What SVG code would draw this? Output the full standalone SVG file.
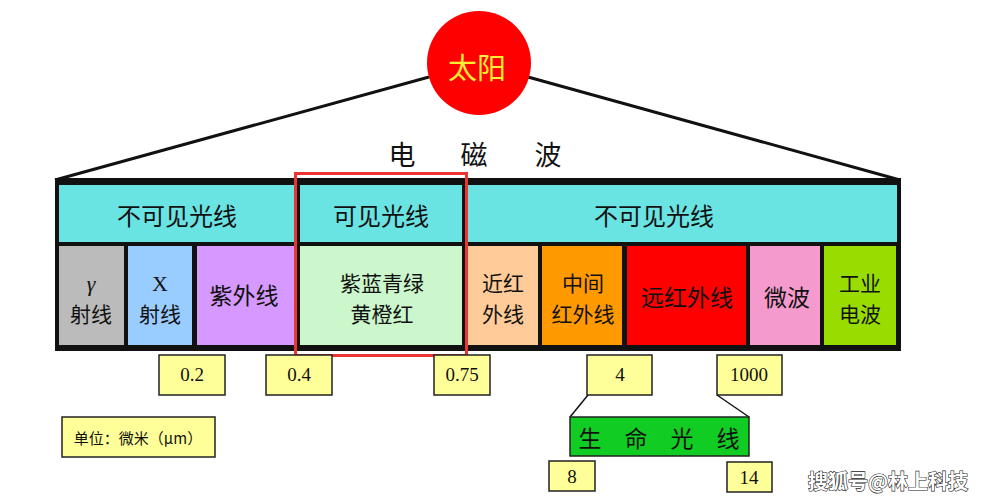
<svg xmlns="http://www.w3.org/2000/svg" width="986" height="501" viewBox="0 0 986 501">
<style>
.cn{font-family:"Noto Sans CJK SC","Noto Sans",sans-serif;text-anchor:middle;dominant-baseline:central;fill:#111}
.num{font-family:"Liberation Serif",serif;text-anchor:middle;dominant-baseline:central;fill:#111;font-size:19px}
.cell{stroke:none}
.val{fill:#ffff99;stroke:#222;stroke-width:1.5}
.ln{stroke:#111;fill:none}
</style>
<rect width="986" height="501" fill="#fff"/>
<g id="connectors">
<line class="ln" x1="55" y1="180" x2="429" y2="77" stroke-width="3"/>
<line class="ln" x1="528" y1="77" x2="900" y2="180" stroke-width="3"/>
<line class="ln" x1="588" y1="395" x2="570" y2="417" stroke-width="1.5"/>
<line class="ln" x1="717" y1="395" x2="749" y2="417" stroke-width="1.5"/>
</g>
<g id="sun">
<circle cx="479" cy="63" r="52" fill="#ff0000"/>
<text class="cn" x="477" y="66" font-size="29" style="fill:#ffee33">太阳</text>
</g>
<g id="title">
<text class="cn" x="402" y="153" font-size="27">电</text>
<text class="cn" x="474" y="153" font-size="27">磁</text>
<text class="cn" x="548" y="153" font-size="27">波</text>
</g>
<g id="band">
<rect x="55" y="178" width="846" height="173" fill="#111"/>
<rect class="cell" x="59" y="185" width="236" height="57" fill="#6ae3e3"/>
<rect class="cell" x="300" y="185" width="162" height="57" fill="#6ae3e3"/>
<rect class="cell" x="467" y="185" width="430" height="57" fill="#6ae3e3"/>
</g>
<g id="invisible-left"><text class="cn" x="177" y="214" font-size="24">不可见光线</text></g>
<g id="visible"><text class="cn" x="381" y="214" font-size="24">可见光线</text></g>
<g id="invisible-right"><text class="cn" x="654" y="214" font-size="24">不可见光线</text></g>
<g id="gamma">
<rect class="cell" x="59" y="246" width="65" height="99" fill="#bbbbbb"/>
<text x="91" y="283" style="font-family:'Liberation Serif',serif;font-style:italic;text-anchor:middle;dominant-baseline:central;font-size:22px;fill:#111">γ</text>
<text class="cn" x="91" y="313" font-size="21">射线</text>
</g>
<g id="xray">
<rect class="cell" x="128" y="246" width="64" height="99" fill="#99ccff"/>
<text x="160" y="283" style="font-family:'Liberation Serif',serif;text-anchor:middle;dominant-baseline:central;font-size:22px;fill:#111">X</text>
<text class="cn" x="160" y="313" font-size="21">射线</text>
</g>
<g id="uv">
<rect class="cell" x="197" y="246" width="98" height="99" fill="#d699ff"/>
<text class="cn" x="244" y="294" font-size="23">紫外线</text>
</g>
<g id="visible-colors">
<rect class="cell" x="300" y="246" width="162" height="99" fill="#ccf7cc"/>
<text class="cn" x="382" y="282" font-size="21">紫蓝青绿</text>
<text class="cn" x="382" y="313" font-size="21">黄橙红</text>
</g>
<g id="near-ir">
<rect class="cell" x="467" y="246" width="71" height="99" fill="#ffcc99"/>
<text class="cn" x="503" y="282" font-size="21">近红</text>
<text class="cn" x="503" y="313" font-size="21">外线</text>
</g>
<g id="mid-ir">
<rect class="cell" x="542" y="246" width="80" height="99" fill="#ff9900"/>
<text class="cn" x="583" y="282" font-size="21">中间</text>
<text class="cn" x="583" y="313" font-size="21">红外线</text>
</g>
<g id="far-ir">
<rect class="cell" x="627" y="246" width="119" height="99" fill="#ff0000"/>
<text class="cn" x="687" y="296" font-size="23">远红外线</text>
</g>
<g id="microwave">
<rect class="cell" x="750" y="246" width="70" height="99" fill="#f59acc"/>
<text class="cn" x="787" y="296" font-size="23">微波</text>
</g>
<g id="radio">
<rect class="cell" x="824" y="246" width="72" height="99" fill="#99dd00"/>
<text class="cn" x="860" y="282" font-size="21">工业</text>
<text class="cn" x="860" y="313" font-size="21">电波</text>
</g>
<g id="highlight">
<rect x="295.5" y="173.5" width="171" height="182" fill="none" stroke="#ee3333" stroke-width="3"/>
</g>
<g id="v02"><rect class="val" x="159" y="355" width="66" height="40"/><text class="num" x="192" y="374">0.2</text></g>
<g id="v04"><rect class="val" x="266" y="355" width="66" height="40"/><text class="num" x="299" y="374">0.4</text></g>
<g id="v075"><rect class="val" x="434" y="355" width="56" height="40"/><text class="num" x="462" y="374">0.75</text></g>
<g id="v4"><rect class="val" x="587" y="355" width="65" height="40"/><text class="num" x="620" y="374">4</text></g>
<g id="v1000"><rect class="val" x="717" y="355" width="65" height="40"/><text class="num" x="749" y="374">1000</text></g>
<g id="unit"><rect class="val" x="62" y="417" width="153" height="40"/><text class="cn" x="138" y="437" font-size="15">单位：微米（μm）</text></g>
<g id="life-light"><rect x="570" y="417" width="179" height="39" fill="#11cc22" stroke="#222" stroke-width="1.5"/><text class="cn" x="659" y="437" font-size="23">生　命　光　线</text></g>
<g id="v8"><rect class="val" x="549" y="461" width="46" height="30"/><text class="num" x="572" y="476" font-size="21px">8</text></g>
<g id="v14"><rect class="val" x="727" y="462" width="45" height="30"/><text class="num" x="749" y="477" font-size="21px">14</text></g>
<text x="888" y="480" style="font-family:'Noto Sans CJK SC',sans-serif;text-anchor:middle;dominant-baseline:central;font-size:20px;font-weight:bold;fill:#fff;stroke:#222;stroke-width:1.2;paint-order:stroke">搜狐号@林上科技</text>
</svg>
